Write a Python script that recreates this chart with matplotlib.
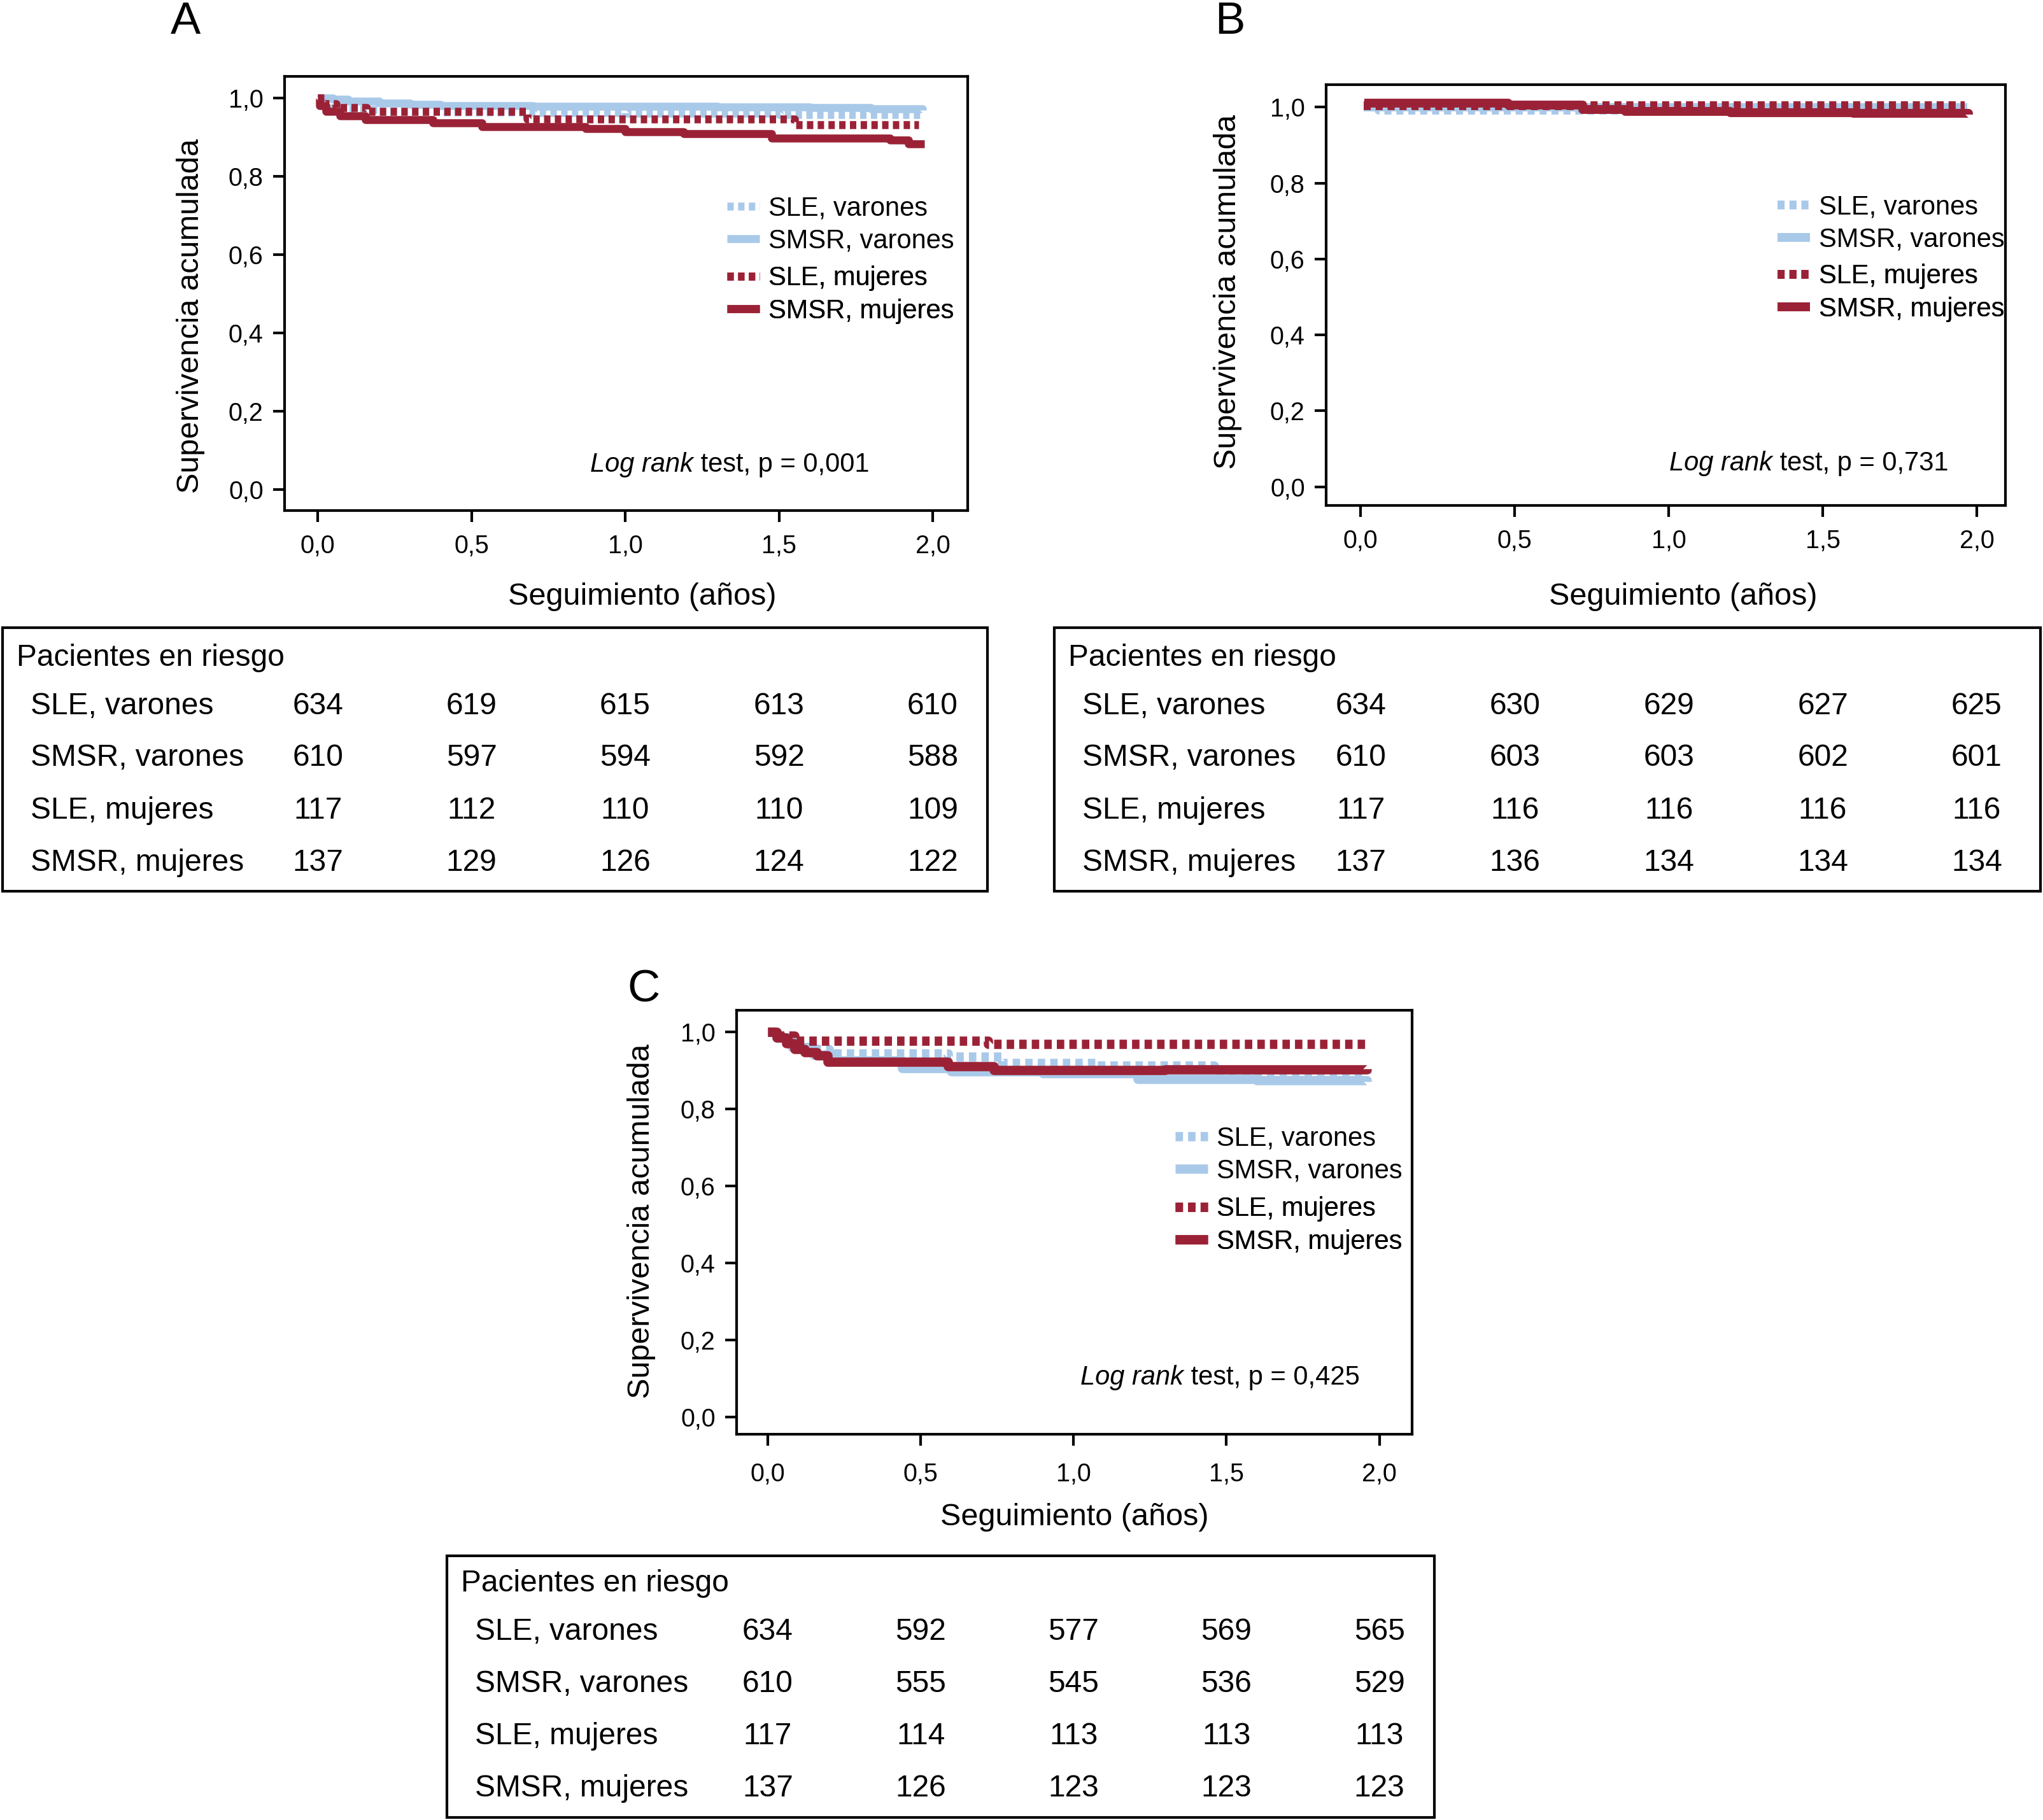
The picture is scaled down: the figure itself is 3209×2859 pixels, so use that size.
import matplotlib
matplotlib.use("Agg")
import matplotlib.pyplot as plt
import matplotlib.transforms as mtransforms
from matplotlib.patches import Rectangle

W, H = 3209, 2859

AZUL = "#a9c9e9"
ROJO = "#9b2236"

etiquetas = ["SLE, varones", "SMSR, varones", "SLE, mujeres", "SMSR, mujeres"]
x_ticks = [0.0, 0.5, 1.0, 1.5, 2.0]
x_ticklabels = ["0,0", "0,5", "1,0", "1,5", "2,0"]
y_ticks = [0.0, 0.2, 0.4, 0.6, 0.8, 1.0]
y_ticklabels = ["0,0", "0,2", "0,4", "0,6", "0,8", "1,0"]

# Panel A (curvas leidas a ojo)
t_sle_var_A = [0, 0.02, 0.05, 0.1, 0.2, 0.4, 0.7, 1.0, 1.5, 1.96]
s_sle_var_A = [1.0, 0.985, 0.975, 0.97, 0.966, 0.964, 0.962, 0.96, 0.957, 0.955]
t_smsr_var_A = [0, 0.05, 0.1, 0.2, 0.3, 0.4, 0.7, 1.0, 1.3, 1.6, 1.8, 1.967]
s_smsr_var_A = [1.0, 0.996, 0.992, 0.987, 0.983, 0.98, 0.979, 0.978, 0.977, 0.975, 0.972, 0.969]
t_sle_muj_A = [0, 0.02, 0.06, 0.16, 0.68, 1.55, 1.955]
s_sle_muj_A = [1.0, 0.985, 0.975, 0.966, 0.946, 0.931, 0.931]
t_smsr_muj_A = [0, 0.005, 0.027, 0.072, 0.155, 0.374, 0.533, 0.872, 1.0, 1.19, 1.476, 1.861, 1.921, 1.974]
s_smsr_muj_A = [1.0, 0.98, 0.966, 0.955, 0.944, 0.937, 0.926, 0.921, 0.914, 0.908, 0.898, 0.892, 0.883, 0.883]

# Panel B
t_sle_var_B = [0.01, 0.06, 1.97]
s_sle_var_B = [1.0, 0.992, 0.992]
t_smsr_var_B = [0.01, 0.7, 1.97]
s_smsr_var_B = [1.0, 0.999, 0.998]
t_sle_muj_B = [0.01, 1.96]
s_sle_muj_B = [1.004, 1.004]
t_smsr_muj_B = [0.013, 0.48, 0.72, 0.86, 1.2, 1.6, 1.973]
s_smsr_muj_B = [1.011, 1.006, 0.994, 0.989, 0.986, 0.983, 0.981]

# Panel C
t_sle_var_C = [0, 0.03, 0.07, 0.12, 0.2, 0.59, 0.766, 1.07, 1.46, 1.96]
s_sle_var_C = [1.0, 0.985, 0.97, 0.955, 0.943, 0.936, 0.919, 0.912, 0.895, 0.892]
t_smsr_var_C = [0, 0.03, 0.08, 0.15, 0.22, 0.44, 0.6, 0.9, 1.21, 1.6, 1.96]
s_smsr_var_C = [1.0, 0.985, 0.96, 0.94, 0.925, 0.906, 0.897, 0.892, 0.878, 0.874, 0.871]
t_sle_muj_C = [0, 0.04, 0.087, 0.72, 1.96]
s_sle_muj_C = [1.0, 0.99, 0.977, 0.969, 0.969]
t_smsr_muj_C = [0, 0.03, 0.06, 0.087, 0.12, 0.16, 0.195, 0.59, 0.74, 1.3, 1.96]
s_smsr_muj_C = [1.0, 0.985, 0.97, 0.955, 0.947, 0.938, 0.922, 0.91, 0.90, 0.902, 0.904]

# Pacientes en riesgo
riesgo_A = [[634, 619, 615, 613, 610], [610, 597, 594, 592, 588],
            [117, 112, 110, 110, 109], [137, 129, 126, 124, 122]]
riesgo_B = [[634, 630, 629, 627, 625], [610, 603, 603, 602, 601],
            [117, 116, 116, 116, 116], [137, 136, 134, 134, 134]]
riesgo_C = [[634, 592, 577, 569, 565], [610, 555, 545, 536, 529],
            [117, 114, 113, 113, 113], [137, 126, 123, 123, 123]]

p_A, p_B, p_C = "0,001", "0,731", "0,425"


def fxy(x, y):
    # pixeles (y hacia abajo) -> fraccion de figura
    return x / W, 1 - y / H


def draw_panel(fig, cfg):
    left, top, right, bottom = cfg["box"]
    ax = fig.add_axes([left / W, 1 - bottom / H, (right - left) / W, (bottom - top) / H])
    lw = cfg["lw"]
    estilos = [(AZUL, (0, (0.8, 0.55))), (AZUL, "-"), (ROJO, (0, (0.8, 0.55))), (ROJO, "-")]
    lines = []
    for (t, s), (col, ls) in zip(cfg["series"], estilos):
        ln, = ax.step(t, s, where="post", color=col, lw=lw, linestyle=ls,
                      solid_capstyle="butt")
        lines.append(ln)

    ax.set_xlim(cfg["xlim"])
    ax.set_ylim(cfg["ylim"])
    ax.set_xticks(x_ticks)
    ax.set_xticklabels(x_ticklabels)
    ax.set_yticks(y_ticks)
    ax.set_yticklabels(y_ticklabels)
    ax.tick_params(axis="both", direction="out", length=13, width=3, labelsize=28.5)
    ax.tick_params(axis="y", pad=11)
    ax.tick_params(axis="x", pad=cfg["xpad"])
    for sp in ax.spines.values():
        sp.set_linewidth(3)

    for k in range(2):
        lx, ly = cfg["legend"][k]
        leg = ax.legend(lines[2 * k:2 * k + 2], etiquetas[2 * k:2 * k + 2],
                        loc="center left", bbox_to_anchor=fxy(lx, ly + 3),
                        bbox_transform=fig.transFigure, frameon=False, borderpad=0,
                        borderaxespad=0, handlelength=1.22, handletextpad=0.34,
                        labelspacing=0.28, fontsize=30)
        ax.add_artist(leg)

    lx, ly = cfg["logrank"]
    t1 = fig.text(*fxy(lx, ly), "Log rank", style="italic", fontsize=30, ha="left", va="center")
    ax.annotate(" test, p = " + cfg["p"], xy=(1, 0), xycoords=t1, ha="left", va="bottom",
                fontsize=30, annotation_clip=False)

    fig.text(*fxy(*cfg["xlabel"]), "Seguimiento (años)", fontsize=35, ha="center", va="center")
    fig.text(*fxy(*cfg["ylabel"]), "Supervivencia acumulada", fontsize=35, rotation=90,
             ha="center", va="center")
    fig.text(*fxy(*cfg["letter_pos"]), cfg["letter"], fontsize=51, ha="center", va="center")
    return ax


def draw_table(fig, ax, box, valores, dy=0):
    left, top, right, bottom = box
    fig.patches.append(Rectangle(fxy(left, bottom), (right - left) / W, (bottom - top) / H,
                                 transform=fig.transFigure, fill=False, lw=3, ec="black"))
    fig.text(*fxy(left + 22, top + 47 + dy), "Pacientes en riesgo", fontsize=34.5,
             ha="left", va="center")
    trans = mtransforms.blended_transform_factory(ax.transData, fig.transFigure)
    for fila, (etq, vals) in enumerate(zip(etiquetas, valores)):
        yy = top + dy + [123, 205, 287, 370][fila]
        fig.text(*fxy(left + 44, yy), etq, fontsize=34.5, ha="left", va="center")
        for xv, v in zip(x_ticks, vals):
            ax.text(xv, 1 - yy / H, str(v), transform=trans, fontsize=34.5,
                    ha="center", va="center", clip_on=False)


def main():
    plt.rcParams["font.family"] = ["Liberation Sans", "DejaVu Sans"]
    fig = plt.figure(figsize=(W / 100, H / 100), dpi=100)

    paneles = [
        dict(box=(447, 120, 1520, 802), xlim=(-0.108, 2.114), ylim=(-0.053, 1.055), lw=9,
             series=[(t_sle_var_A, s_sle_var_A), (t_smsr_var_A, s_smsr_var_A),
                     (t_sle_muj_A, s_sle_muj_A), (t_smsr_muj_A, s_smsr_muj_A)],
             legend=[(1142, 350), (1142, 460)], logrank=(927, 730), p=p_A, xpad=14,
             xlabel=(1009, 937), ylabel=(299, 496), letter="A", letter_pos=(291, 35),
             table=(4, 986, 1551, 1400), riesgo=riesgo_A, dy=0),
        dict(box=(2083, 133, 3150, 794), xlim=(-0.112, 2.093), ylim=(-0.049, 1.059), lw=10,
             series=[(t_sle_var_B, s_sle_var_B), (t_smsr_var_B, s_smsr_var_B),
                     (t_sle_muj_B, s_sle_muj_B), (t_smsr_muj_B, s_smsr_muj_B)],
             legend=[(2792, 348), (2792, 457)], logrank=(2622, 728), p=p_B, xpad=14,
             xlabel=(2644, 937), ylabel=(1928, 458), letter="B", letter_pos=(1932, 35),
             table=(1656, 986, 3205, 1400), riesgo=riesgo_B, dy=0),
        dict(box=(1157, 1587, 2218, 2253), xlim=(-0.102, 2.107), ylim=(-0.045, 1.056), lw=10.5,
             series=[(t_sle_var_C, s_sle_var_C), (t_smsr_var_C, s_smsr_var_C),
                     (t_sle_muj_C, s_sle_muj_C), (t_smsr_muj_C, s_smsr_muj_C)],
             legend=[(1846, 1811), (1846, 1922)], logrank=(1697, 2164), p=p_C, xpad=19,
             xlabel=(1688, 2384), ylabel=(1007, 1918), letter="C", letter_pos=(1011, 1555),
             table=(702, 2444, 2253, 2855), riesgo=riesgo_C, dy=-4),
    ]

    for cfg in paneles:
        ax = draw_panel(fig, cfg)
        draw_table(fig, ax, cfg["table"], cfg["riesgo"], cfg["dy"])

    fig.savefig("out.png", dpi=100, facecolor="white")


if __name__ == "__main__":
    main()
